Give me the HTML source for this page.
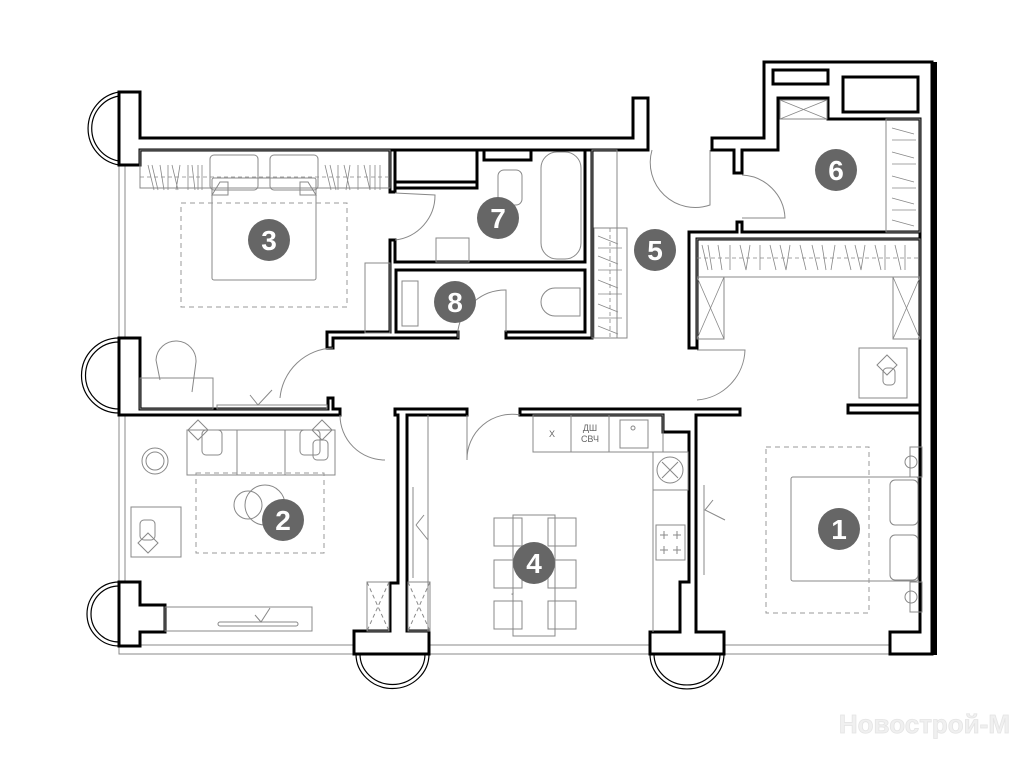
<!DOCTYPE html>
<html><head><meta charset="utf-8"><style>
html,body{margin:0;padding:0;background:#fff;}
svg{display:block;}
.w{fill:#fff;stroke:#000;stroke-width:3;stroke-linejoin:miter;}
.t{fill:none;stroke:#888;stroke-width:1;}
.d{fill:none;stroke:#999;stroke-width:1;stroke-dasharray:5 4;}
.h{fill:none;stroke:#888;stroke-width:0.8;}
.n{fill:#666;}
.nt{fill:#fff;font-family:"Liberation Sans",sans-serif;font-weight:bold;font-size:28px;text-anchor:middle;}
.k{fill:#666;font-family:"Liberation Sans",sans-serif;font-size:9px;text-anchor:middle;}
</style></head><body>
<svg width="1024" height="768" viewBox="0 0 1024 768" xmlns="http://www.w3.org/2000/svg">
<rect width="1024" height="768" fill="#fff"/>

<!-- bays -->
<g fill="none" stroke="#000" stroke-width="1.2">
<path d="M119,92 A37,37 0 0 0 119,165"/><path d="M119,96 A33,33 0 0 0 119,161"/>
<path d="M119,338 A37,37 0 0 0 119,413"/><path d="M119,342 A33,33 0 0 0 119,409"/>
<path d="M119,582 A32,32 0 0 0 119,646"/><path d="M119,586 A28,28 0 0 0 119,642"/>
<path d="M356,654 A36,34 0 0 0 429,654"/><path d="M360,654 A32,30 0 0 0 425,654"/>
<path d="M650,654 A36,34 0 0 0 724,654"/><path d="M654,654 A32,30 0 0 0 720,654"/>
</g>

<!-- windows / exterior thin lines -->
<g class="t">
<rect x="119" y="165" width="6" height="173"/>
<rect x="119" y="413" width="6" height="169"/>
<rect x="119" y="645" width="771" height="9"/>
<line x1="935" y1="62" x2="935" y2="655" stroke="#000" stroke-width="4"/>
</g>

<!-- walls -->
<path class="w" d="M119,92 L140,92 L140,138 L633,138 L633,98 L648,98 L648,150 L140,150 L140,165 L119,165 Z"/>
<path class="w" d="M119,338 L140,338 L140,409 L328,409 L328,398 L333,398 L333,409 L340,409 L340,415 L119,415 Z"/>
<path class="w" d="M119,582 L140,582 L140,605 L165,605 L165,632 L140,632 L140,646 L119,646 Z"/>
<path class="w" d="M395,409 L467,409 L467,415 L407,415 L407,631 L429,631 L429,654 L354,654 L354,631 L390,631 L390,583 L398,583 L398,415 L395,415 Z"/>
<path class="w" d="M520,409 L740,409 L740,415 L696,415 L696,632 L724,632 L724,654 L650,654 L650,632 L680,632 L680,582 L689,582 L689,432 L663,432 L663,415 L520,415 Z"/>
<path class="w" d="M848,405 L920,405 L920,413 L848,413 Z"/>
<path class="w" d="M764,62 L932,62 L932,654 L890,654 L890,632 L920,632 L920,119 L828,119 L828,98 L778,98 L778,150 L742,150 L742,173 L734,173 L734,150 L712,150 L712,138 L764,138 Z"/>
<path class="w" d="M689,232 L737,232 L737,222 L742,222 L742,232 L920,232 L920,239 L697,239 L697,348 L689,348 Z"/>
<rect class="w" x="773" y="70" width="55" height="14"/>
<rect class="w" x="843" y="77" width="75" height="35"/>
<!-- bath walls -->
<path class="w" d="M390,150 L395,150 L395,192 L390,192 Z"/>
<path class="w" d="M390,240 L395,240 L395,262 L585,262 L585,150 L592,150 L592,338 L506,338 L506,332 L585,332 L585,270 L396,270 L396,332 L458,332 L458,338 L333,338 L333,348 L327,348 L327,332 L390,332 Z"/>
<rect class="w" x="395" y="150" width="82" height="32"/>
<rect class="w" x="484" y="150" width="47" height="10"/>
<path class="w" d="M395,182 L477,182 L477,188 L395,188 Z"/>

<!-- doors -->
<g class="t">
<path d="M395,193 L435,195 A45,45 0 0 1 395,240"/>
<path d="M333,348 A55,55 0 0 0 280,398"/>
<path d="M340,415 A45,45 0 0 0 385,460"/>
<path d="M467,415 L467,460 A45,45 0 0 1 520,415"/>
<path d="M458,338 L458,330 A48,48 0 0 1 506,290 L506,332"/>
<path d="M652,150 A45,45 0 0 0 710,205 L710,150"/>
<path d="M742,175 A45,45 0 0 1 785,218 L742,218"/>
<path d="M697,400 A52,52 0 0 0 745,350 L697,350"/>
</g>

<!-- bedroom 3 -->
<g class="t">
<rect x="140" y="150" width="250" height="38"/>
<rect x="210" y="155" width="48" height="35" rx="4"/><rect x="270" y="155" width="48" height="35" rx="4"/>
<rect x="212" y="178" width="104" height="102" rx="2"/>
<path d="M212,195 L220,182 L228,182 L228,195 Z M316,195 L308,182 L300,182 L300,195 Z"/>
<rect x="365" y="263" width="25" height="70"/>
<rect x="140" y="378" width="73" height="31"/>
<path d="M160,380 L156,360 A20,20 0 0 1 196,362 L192,392"/>
<rect x="217" y="405" width="110" height="4"/>
<path d="M250,395 L258,405 L272,390"/>
</g>
<rect class="d" x="181" y="203" width="166" height="104"/>
<g class="h">
<path d="M148,165 l6,25 M152,165 l6,25 M160,165 l4,25 M168,165 l0,25 M172,165 l6,25 M180,165 l-4,25 M188,165 l0,25 M192,165 l3,25 M198,165 l0,25 M202,165 l0,25"/>
<path d="M325,165 l6,25 M330,165 l6,25 M338,165 l0,25 M344,165 l6,25 M350,165 l-4,25 M358,165 l0,25 M364,165 l6,25 M370,165 l0,25 M375,165 l0,25 M380,165 l0,25"/>
<line x1="140" y1="177" x2="390" y2="177" stroke-dasharray="4 3"/>
</g>

<!-- bath 7 / 8 fixtures -->
<g class="t">
<rect x="541" y="152" width="40" height="107" rx="16"/>
<rect x="498" y="170" width="24" height="35" rx="6"/>
<rect x="436" y="238" width="33" height="24"/>
<rect x="402" y="281" width="16" height="45"/>
<path d="M580,288 L555,288 A14,14 0 0 0 555,316 L580,316 Z"/>
<rect x="592" y="150" width="25" height="188"/>
<rect x="594" y="228" width="33" height="110"/>
</g>
<g class="h">
<path d="M598,236 l20,8 M598,248 l24,0 M598,256 l20,8 M598,270 l24,0 M598,280 l20,8 M598,294 l24,0 M598,304 l20,8 M598,318 l24,0 M598,326 l20,8"/>
<line x1="610" y1="228" x2="610" y2="338" stroke-dasharray="4 3"/>
</g>

<!-- room 6 -->
<g class="t">
<rect x="780" y="100" width="47" height="19"/>
<rect x="886" y="119" width="34" height="113"/>
</g>
<g class="h">
<path d="M780,100 L827,119 M827,100 L780,119"/>
<path d="M892,128 l22,6 M892,140 l24,0 M892,152 l22,6 M892,164 l24,0 M892,176 l22,6 M892,188 l24,0 M892,198 l22,6 M892,210 l24,0 M892,220 l22,6"/>
</g>

<!-- room 1 top wardrobe -->
<g class="t">
<rect x="697" y="239" width="223" height="38"/>
<rect x="697" y="277" width="27" height="62"/><rect x="893" y="277" width="27" height="62"/>
<rect x="859" y="348" width="48" height="50"/>
<path d="M887,355 l10,10 l-10,10 l-10,-10 Z"/><rect x="883" y="368" width="12" height="17" rx="4"/>
<rect x="910" y="447" width="12" height="30"/><rect x="910" y="582" width="12" height="30"/>
<circle cx="911" cy="462" r="6"/><circle cx="911" cy="597" r="6"/>
<rect x="791" y="477" width="127" height="104" rx="2"/>
<rect x="890" y="480" width="28" height="45" rx="5"/><rect x="890" y="535" width="28" height="45" rx="5"/>
<path d="M704,485 L704,575 M713,500 L705,510 L725,520"/>
</g>
<g class="h">
<path d="M702,245 l6,25 M708,245 l4,25 M718,245 l4,25 M730,245 l0,25 M740,245 l6,25 M750,245 l-4,25 M760,245 l0,25 M770,245 l6,25 M780,245 l6,25 M790,245 l-4,25 M800,245 l6,25 M812,245 l6,25 M822,245 l4,25 M835,245 l-4,25 M845,245 l6,25 M855,245 l6,25 M865,245 l-4,25 M875,245 l6,25 M885,245 l0,25 M895,245 l6,25 M905,245 l0,25"/>
<line x1="697" y1="258" x2="920" y2="258" stroke-dasharray="4 3"/>
<path d="M697,277 L724,339 M724,277 L697,339 M893,277 L920,339 M920,277 L893,339"/>
</g>
<rect class="d" x="766" y="447" width="103" height="166"/>

<!-- living 2 -->
<g class="t">
<rect x="187" y="430" width="148" height="45"/>
<line x1="237" y1="430" x2="237" y2="475"/><line x1="285" y1="430" x2="285" y2="475"/>
<path d="M198,420 l10,10 l-10,10 l-10,-10 Z M322,420 l10,10 l-10,10 l-10,-10 Z"/>
<rect x="202" y="430" width="20" height="25" rx="4"/><rect x="300" y="430" width="20" height="25" rx="4"/>
<rect x="313" y="440" width="15" height="20" rx="4"/>
<circle cx="155" cy="461" r="13"/><circle cx="155" cy="461" r="9"/>
<rect x="131" y="507" width="50" height="50"/>
<path d="M148,533 l10,10 l-10,10 l-10,-10 Z"/><rect x="140" y="520" width="15" height="20" rx="4"/>
<circle cx="248" cy="505" r="14"/><circle cx="265" cy="505" r="20"/>
<rect x="165" y="607" width="147" height="24"/>
<rect x="218" y="622" width="80" height="4" rx="2"/>
<path d="M255,615 L261,622 L270,608"/>
<rect x="367" y="582" width="22" height="49"/><rect x="408" y="582" width="22" height="49"/>
<path d="M367,582 L389,631 M389,582 L367,631 M408,582 L430,631 M430,582 L408,631" stroke-dasharray="4 3"/>
<path d="M413,487 L413,578 M416,525 L428,540 M416,525 L424,515"/>
<line x1="428" y1="415" x2="428" y2="631"/>
</g>
<rect class="d" x="196" y="473" width="128" height="80"/>

<!-- kitchen 4 -->
<g class="t">
<rect x="533" y="415" width="130" height="37"/>
<line x1="571" y1="415" x2="571" y2="452"/><line x1="609" y1="415" x2="609" y2="452"/>
<rect x="620" y="420" width="28" height="28"/><circle cx="633" cy="428" r="2"/>
<rect x="653" y="452" width="35" height="38"/><circle cx="670" cy="470" r="13"/>
<path d="M662,462 l16,16 M678,462 l-16,16"/>
<line x1="653" y1="452" x2="653" y2="632"/>
<rect x="656" y="525" width="29" height="35"/>
<path d="M660,535 h8 M664,531 v8 M673,535 h8 M677,531 v8 M660,550 h8 M664,546 v8 M673,550 h8 M677,546 v8"/>
<rect x="512" y="594" width="0.1" height="0.1"/>
<rect x="513" y="593" width="0.1" height="0.1"/>
<rect x="512" y="594" width="0.1" height="0.1"/>
<rect x="513" y="515" width="42" height="121"/>
<rect x="494" y="518" width="28" height="28"/><rect x="548" y="518" width="28" height="28"/>
<rect x="494" y="560" width="28" height="28"/><rect x="548" y="560" width="28" height="28"/>
<rect x="494" y="601" width="28" height="28"/><rect x="548" y="601" width="28" height="28"/>
</g>
<text class="k" x="552" y="437">Х</text>
<text class="k" x="590" y="431">ДШ</text>
<text class="k" x="590" y="442">СВЧ</text>

<!-- numbers -->
<g>
<circle class="n" cx="269" cy="240" r="21"/><text class="nt" x="269" y="250">3</text>
<circle class="n" cx="498" cy="218" r="21"/><text class="nt" x="498" y="228">7</text>
<circle class="n" cx="455" cy="302" r="21"/><text class="nt" x="455" y="312">8</text>
<circle class="n" cx="655" cy="250" r="21"/><text class="nt" x="655" y="260">5</text>
<circle class="n" cx="836" cy="170" r="21"/><text class="nt" x="836" y="180">6</text>
<circle class="n" cx="283" cy="520" r="21"/><text class="nt" x="283" y="530">2</text>
<circle class="n" cx="534" cy="563" r="21"/><text class="nt" x="534" y="573">4</text>
<circle class="n" cx="839" cy="529" r="21"/><text class="nt" x="839" y="539">1</text>
</g>

<text x="1010" y="733" text-anchor="end" font-family="Liberation Sans, sans-serif" font-size="26" font-weight="bold" fill="#f0f0f0" stroke="#e4e4e4" stroke-width="0.8">Новострой-М</text>
</svg>
</body></html>
